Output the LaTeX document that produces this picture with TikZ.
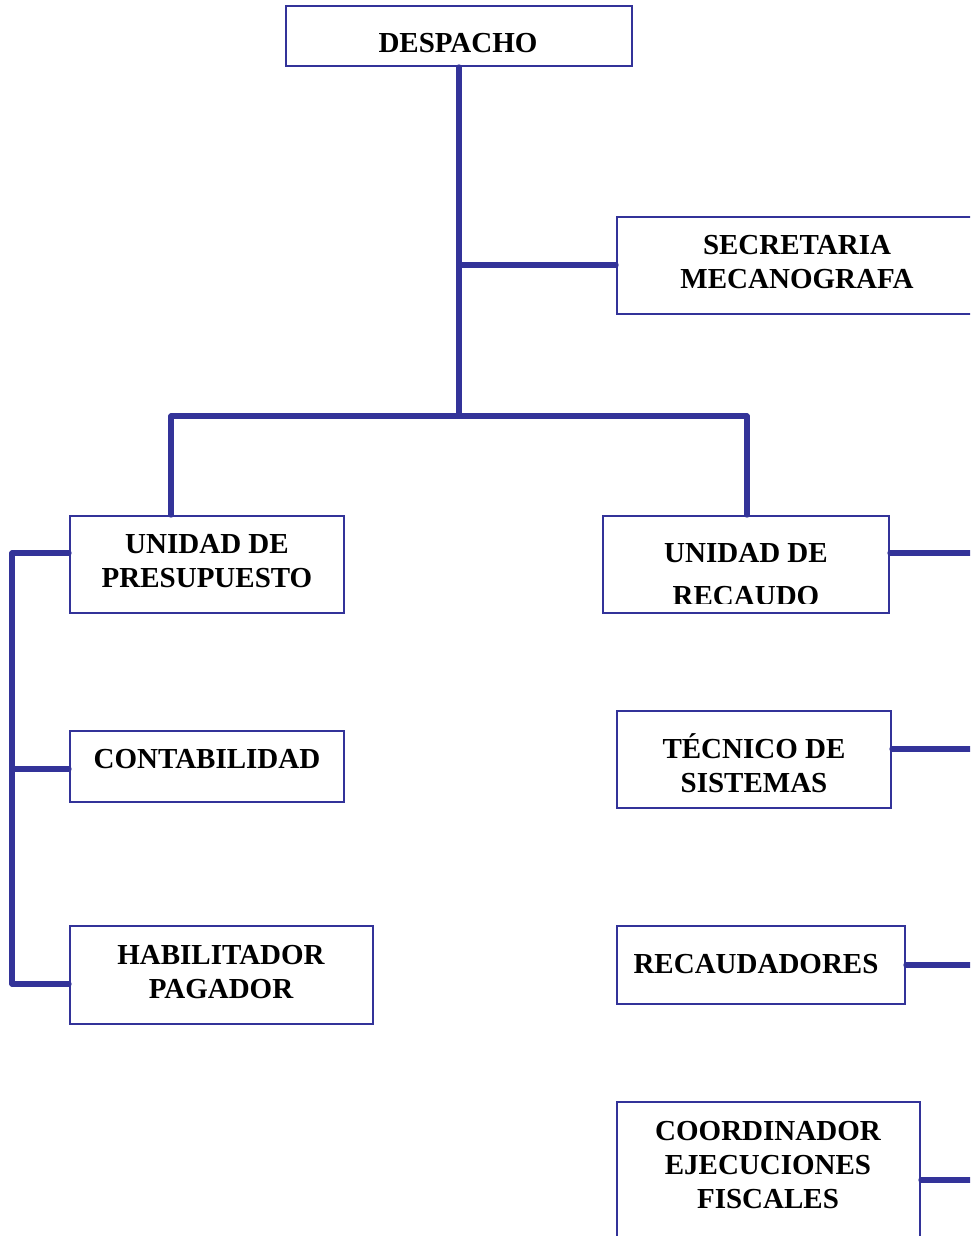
\documentclass[tikz,border=0pt]{standalone}
\usepackage{fontspec}
\setmainfont{Liberation Serif}
\definecolor{orgblue}{RGB}{51,51,153}
\begin{document}
\begin{tikzpicture}[x=1pt,y=-1pt,
  box/.style={draw=orgblue,line width=1.9pt,rectangle,inner sep=0pt,fill=white},
  txt/.style={align=center,inner sep=0pt,font=\fontsize{29}{34}\selectfont\bfseries,text=black},
  conn/.style={draw=orgblue,line width=5.2pt,line cap=round,line join=miter}]
\useasboundingbox (0,0) rectangle (970,1236);
\clip (0,0) rectangle (970,1236);
% boxes
\node[box,minimum width=346,minimum height=60] (desp) at (459,36) {};
\node[box,minimum width=373,minimum height=97] (secr) at (803.5,265.5) {};
\node[box,minimum width=274,minimum height=97] (pres) at (207,564.5) {};
\node[box,minimum width=286,minimum height=97] (reca) at (746,564.5) {};
\node[box,minimum width=274,minimum height=71] (cont) at (207,766.5) {};
\node[box,minimum width=303,minimum height=98] (habi) at (221.5,975) {};
\node[box,minimum width=274,minimum height=97] (tecn) at (754,759.5) {};
\node[box,minimum width=288,minimum height=78] (recd) at (761,965) {};
\node[box,minimum width=303,minimum height=148] (coor) at (768.5,1176) {};
% texts
\node[txt] (despT) at (458,43) {DESPACHO};
\node[txt] (secrT) at (797,262) {SECRETARIA\\MECANOGRAFA};
\node[txt] (presT) at (207,561) {UNIDAD DE\\PRESUPUESTO};
\begin{scope}
\clip (reca.north west) rectangle (889,603);
\node[txt] (recaT) at (746,575) {UNIDAD DE\\[9pt]RECAUDO};
\end{scope}
\node[txt] (contT) at (207,759) {CONTABILIDAD};
\node[txt] (habiT) at (221,972) {HABILITADOR\\PAGADOR};
\node[txt] (tecnT) at (754,766) {T\smash{É}CNICO DE\\SISTEMAS};
\node[txt] (recdT) at (756,964) {RECAUDADORES};
\node[txt] (coorT) at (768,1165) {COORDINADOR\\EJECUCIONES\\FISCALES};
% junction coordinates
\coordinate (j1) at (459,265);
\coordinate (j2) at (459,416);
\coordinate (bl) at (171,416);
\coordinate (br) at (747,416);
\coordinate (lt) at (12,553);
\coordinate (lm) at (12,769);
\coordinate (lb) at (12,984);
\coordinate (e1) at (975,553);
\coordinate (e2) at (975,749);
\coordinate (e3) at (975,965);
\coordinate (e4) at (975,1180);
% connectors
\draw[conn] (desp.south) -- (j2);
\draw[conn] (j1) -- (secr.west |- j1);
\draw[conn] (bl) -- (br);
\draw[conn] (bl) -- (pres.north -| bl);
\draw[conn] (br) -- (reca.north -| br);
\draw[conn] (lt) -- (lb);
\draw[conn] (lt) -- (pres.west |- lt);
\draw[conn] (lm) -- (cont.west |- lm);
\draw[conn] (lb) -- (habi.west |- lb);
\draw[conn] (reca.east |- e1) -- (e1);
\draw[conn] (tecn.east |- e2) -- (e2);
\draw[conn] (recd.east |- e3) -- (e3);
\draw[conn] (coor.east |- e4) -- (e4);
\end{tikzpicture}
\end{document}
